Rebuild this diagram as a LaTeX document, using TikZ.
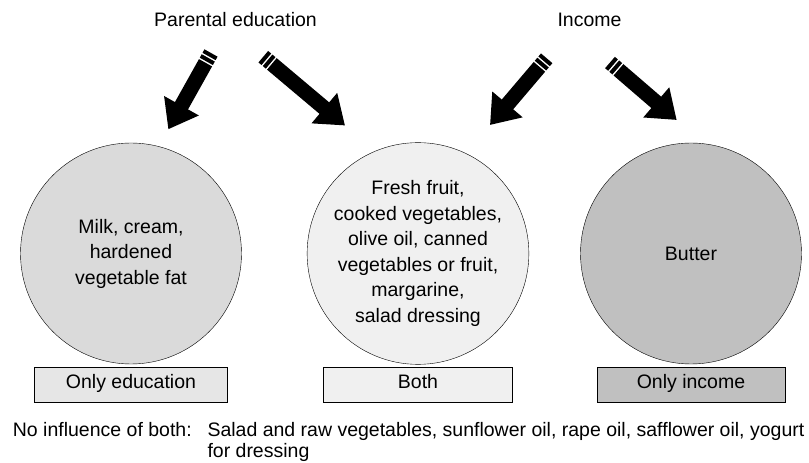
\documentclass[tikz,border=0pt]{standalone}
\usepackage{fontspec}
\setmainfont{Liberation Sans}
\usetikzlibrary{arrows.meta}
\usetikzlibrary{positioning}

\definecolor{edufill}{HTML}{DADADA}
\definecolor{bothfill}{HTML}{F0F0F0}
\definecolor{incfill}{HTML}{C0C0C0}
\definecolor{edutagfill}{HTML}{E6E6E6}

\tikzset{
    foodgroup/.style={
        circle, draw=black, thin,
        minimum size=221pt, inner sep=0pt,
        align=center, text=black,
    },
    grouptag/.style={
        rectangle, draw=black, thin,
        minimum height=35pt, inner sep=0pt,
        text height=1.5ex, text depth=0pt,
        text=black,
    },
    influence/.style={
        line width=15pt,
        dash pattern=on 4pt off 1.6pt on 4pt off 1.6pt on 400pt off 0pt,
        -{Triangle[length=27pt, width=38pt]},
    },
}

\begin{document}
\begin{tikzpicture}[x=1pt, y=1pt, font=\fontsize{19.5}{25.5}\selectfont]
        \useasboundingbox (0,0) rectangle (809,463);

        % factors
        \node (edu) at(235.5,443) {Parental education};
        \node (inc) at(589.5,443) {Income};

        % food groups
        \node (milk) at(131,209.5) [foodgroup, fill=edufill]
            {Milk, cream,\\hardened\\vegetable fat};
        \node (fresh) at(418,209.5) [foodgroup, fill=bothfill]
            {Fresh fruit,\\cooked vegetables,\\olive oil, canned\\vegetables or fruit,\\margarine,\\salad dressing};
        \node (butter) at(691,209.5) [foodgroup, fill=incfill] {Butter};

        \node (onlyedu) [grouptag, fill=edutagfill, minimum width=193pt,
            below=2.5pt of milk] {Only education};
        \node (both) [grouptag, fill=bothfill, minimum width=189pt,
            below=2.5pt of fresh] {Both};
        \node (onlyinc) [grouptag, fill=incfill, minimum width=188pt,
            below=2.5pt of butter] {Only income};

        % arrows
        \coordinate (edu-a) at(211,410);
        \coordinate (edu-b) at(263.3,406.3);
        \coordinate (inc-a) at(546.7,404.7);
        \coordinate (inc-b) at(610,400.5);
        \coordinate (milk-in) at(168.3,333.7);
        \coordinate (fresh-in1) at(345,337.5);
        \coordinate (fresh-in2) at(490,338);
        \coordinate (butter-in) at(676.7,343);

        \draw[influence] (edu-a) -- (milk-in);
        \draw[influence] (edu-b) -- (fresh-in1);
        \draw[influence] (inc-a) -- (fresh-in2);
        \draw[influence] (inc-b) -- (butter-in);

        % no influence
        \node (none) at(12.7,26) [anchor=base west, inner sep=0pt] {No influence of both:};
        \node (nonelist) at(207.3,26) [anchor=base west, inner sep=0pt] {Salad and raw vegetables, sunflower oil, rape oil, safflower oil, yogurt};
        \node (nonelist2) at(207.3,5.5) [anchor=base west, inner sep=0pt] {for dressing};
    \end{tikzpicture}
\end{document}
